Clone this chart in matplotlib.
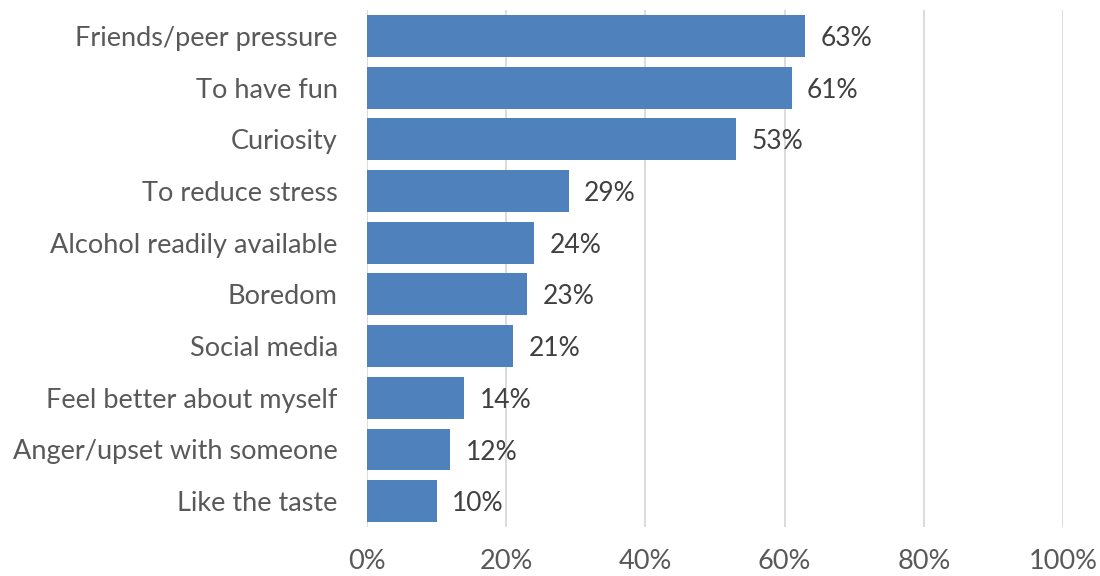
import matplotlib
matplotlib.use("Agg")
import matplotlib.pyplot as plt
from matplotlib.ticker import FuncFormatter

plt.rcParams['font.family'] = ['Lato', 'DejaVu Sans']

categories = ["Friends/peer pressure", "To have fun", "Curiosity", "To reduce stress",
              "Alcohol readily available", "Boredom", "Social media",
              "Feel better about myself", "Anger/upset with someone", "Like the taste"]
values = [63, 61, 53, 29, 24, 23, 21, 14, 12, 10]
xticks = [0, 20, 40, 60, 80, 100]

bar_color = "#4F81BD"
label_color = "#595959"
value_color = "#404040"

fig = plt.figure(figsize=(11, 5.76), dpi=100)
ax = fig.add_axes([0.3336, 0.0851, 0.6328, 0.8975])

ypos = list(range(len(categories)))
ax.barh(ypos, values, height=0.81, color=bar_color, zorder=3)
ax.set_ylim(len(categories) - 0.5, -0.5)
ax.set_xlim(0, 100)

ax.set_yticks(ypos)
ax.set_yticklabels(categories, fontsize=19.5, color=label_color)
ax.set_xticks(xticks)
ax.xaxis.set_major_formatter(FuncFormatter(lambda v, p: f"{v:.0f}%"))
ax.tick_params(axis='x', labelsize=19.5, labelcolor=label_color, length=0, pad=16)
ax.tick_params(axis='y', length=0, pad=21)

ax.grid(axis='x', color="#D9D9D9", linewidth=1.3, zorder=0)
for s in ax.spines.values():
    s.set_visible(False)

for y, v in zip(ypos, values):
    ax.text(v + 2.2, y + 0.05, f"{v}%", va='center', ha='left', fontsize=19, color=value_color, zorder=4)

fig.savefig("out.png", dpi=100)
